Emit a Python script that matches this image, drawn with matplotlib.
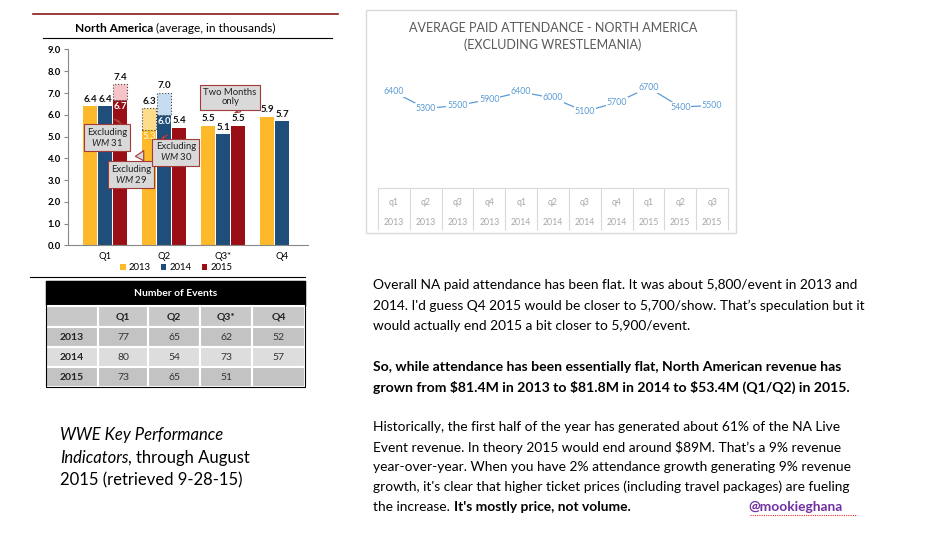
import numpy as np
import matplotlib.pyplot as plt
from matplotlib.patches import Rectangle

plt.rcParams['font.family'] = ['Lato', 'DejaVu Sans']
plt.rcParams['mathtext.fontset'] = 'custom'
plt.rcParams['mathtext.rm'] = 'Lato'
plt.rcParams['mathtext.it'] = 'Lato:italic'

W, H = 930, 536

# --- bar chart data (average attendance, thousands) ---
quarters = ['Q1', 'Q2', 'Q3*', 'Q4']
years = ['2013', '2014', '2015']
avg_2013 = [6.4, 5.3, 5.5, 5.9]
avg_2014 = [6.4, 6.0, 5.1, 5.7]
avg_2015 = [6.7, 5.4, 5.5, np.nan]
# same quarters with WrestleMania included (only where it differs)
wm_2013 = [np.nan, 6.3, np.nan, np.nan]
wm_2014 = [np.nan, 7.0, np.nan, np.nan]
wm_2015 = [7.4, np.nan, np.nan, np.nan]

# --- number of events table ---
events_2013 = [77, 65, 62, 52]
events_2014 = [80, 54, 73, 57]
events_2015 = [73, 65, 51, None]

# --- line chart data ---
line_q = ['q1', 'q2', 'q3', 'q4', 'q1', 'q2', 'q3', 'q4', 'q1', 'q2', 'q3']
line_yr = ['2013'] * 4 + ['2014'] * 4 + ['2015'] * 3
line_vals = [6400, 5300, 5500, 5900, 6400, 6000, 5100, 5700, 6700, 5400, 5500]


def box(x0, y0, x1, y1):
    # pixel box -> figure fraction
    return [x0 / W, 1 - y1 / H, (x1 - x0) / W, (y1 - y0) / H]


fig = plt.figure(figsize=(9.3, 5.36), dpi=100)
page = fig.add_axes([0, 0, 1, 1])
page.set_xlim(0, W)
page.set_ylim(H, 0)
page.axis('off')

# ================= bar chart =================
page.plot([33, 338], [14, 14], color='#8B1A1A', lw=1.2)
page.plot([43, 332], [38, 38], color='black', lw=0.8)
page.plot([30, 305], [277, 277], color='black', lw=0.8)
t = page.text(75, 28, 'North America', fontsize=8.6, fontweight='bold', va='center')
page.annotate(' (average, in thousands)', xy=(1, 0), xycoords=t, va='bottom', fontsize=8.6)

ax = fig.add_axes(box(68, 49.5, 308, 245.5))
ax.patch.set_alpha(0)
x = np.arange(len(quarters))
off = 0.254
bw = 0.245
cols = ['#FDB92A', '#1F4E7A', '#9A0E16']
ghost = ['#FDDC8A', '#C6DDF1', '#F6C3C9']
inner_txt = ['#FFF0C0', 'white', 'white']
handles = []
for k, (vals, wm) in enumerate(zip([avg_2013, avg_2014, avg_2015], [wm_2013, wm_2014, wm_2015])):
    vals = np.array(vals)
    wm = np.array(wm)
    xs = x + (k - 1) * off
    ok = ~np.isnan(vals)
    b = ax.bar(xs[ok], vals[ok], bw, color=cols[k], label=years[k])
    handles.append(b)
    g = ~np.isnan(wm)
    ax.bar(xs[g], wm[g] - vals[g], bw, bottom=vals[g], color=ghost[k],
           edgecolor='#444444', linestyle=':', linewidth=0.8)
    for xi, v, tv in zip(xs, vals, wm):
        if np.isnan(v):
            continue
        top = v if np.isnan(tv) else tv
        ax.text(xi, top + 0.12, f'{top:.1f}', ha='center', va='bottom',
                fontsize=7, fontweight='bold', color='#111111')
        if not np.isnan(tv):
            ax.text(xi, v - 0.1, f'{v:.1f}', ha='center', va='top',
                    fontsize=7, fontweight='bold', color=inner_txt[k])

ax.set_ylim(0, 9)
ax.set_xlim(-0.627, 3.44)
ax.set_yticks(np.arange(0, 10))
ax.set_yticklabels([f'{v:.1f}' for v in range(10)], fontsize=6.8, fontweight='bold')
ax.set_xticks(x)
ax.set_xticklabels(quarters, fontsize=6.8)
ax.tick_params(axis='x', length=0, pad=5)
ax.tick_params(axis='y', length=3, color='#888888', pad=2)
for s in ['top', 'right']:
    ax.spines[s].set_visible(False)
ax.spines['left'].set_color('#888888')
ax.spines['bottom'].set_color('#888888')

callouts = [
    ('Excluding\n$\\it{WM\\ 31}$', (0.034, 4.94), (0.254, 5.85)),
    ('Excluding\n$\\it{WM\\ 29}$', (0.44, 3.24), (0.678, 4.47)),
    ('Excluding\n$\\it{WM\\ 30}$', (1.2, 4.29), (0.98, 4.98)),
    ('Two Months\nonly', (2.12, 6.81), (2.29, 6.13)),
]
for txt, pos, tip in callouts:
    ax.annotate(txt, xy=tip, xytext=pos, ha='center', va='center', fontsize=6.8,
                color='#222222', linespacing=1.05,
                bbox=dict(boxstyle='square,pad=0.35', fc='#D9D9D9', ec='#A33A3A', lw=0.8),
                arrowprops=dict(arrowstyle='wedge,tail_width=1.0,shrink_factor=0.5',
                                fc='#D9D9D9', ec='#A33A3A', lw=0.8))

fig.legend(handles=handles, labels=years, loc='center', ncol=3,
           bbox_to_anchor=(176 / W, 1 - 268 / H), frameon=False, fontsize=6.8,
           handlelength=0.6, handleheight=0.6, handletextpad=0.3, columnspacing=1.1)

# ================= events table (own axes, pixel units) =================
tax = fig.add_axes(box(40, 279, 312, 392))
tax.set_zorder(10)
tax.set_xlim(40, 312)
tax.set_ylim(392, 279)
tax.axis('off')
tax.add_patch(Rectangle((40, 279), 272, 113, color='white'))
cx = [46, 98, 148, 200, 252, 305]
ry = [306, 327, 347, 367, 387]
tax.add_patch(Rectangle((46, 281), 259, 25, color='black'))
tax.text((46 + 305) / 2, 294, 'Number of Events', ha='center', va='center',
         color='white', fontsize=7.4, fontweight='bold')
row_bg = ['#C8C8C8', '#C3C3C3', '#DDDDDD', '#C3C3C3']
rows = [[''] + quarters,
        ['2013'] + [str(v) for v in events_2013],
        ['2014'] + [str(v) for v in events_2014],
        ['2015'] + ['' if v is None else str(v) for v in events_2015]]
for r, row in enumerate(rows):
    for c, val in enumerate(row):
        tax.add_patch(Rectangle((cx[c], ry[r]), cx[c + 1] - cx[c], ry[r + 1] - ry[r],
                                fc=row_bg[r], ec='white', lw=1.5))
        bold = r == 0 or c == 0
        tax.text((cx[c] + cx[c + 1]) / 2, (ry[r] + ry[r + 1]) / 2 + 0.5, val,
                 ha='center', va='center', fontsize=7.5,
                 fontweight='bold' if bold else 'normal',
                 color='#222222' if bold else '#333333')
tax.add_patch(Rectangle((46, 281), 259, 106, fill=False, ec='black', lw=0.8))

# ================= line chart =================
page.add_patch(Rectangle((366, 10), 370, 223, fill=False, ec='#D9D9D9', lw=1))
page.text(553, 28, 'AVERAGE PAID ATTENDANCE - NORTH AMERICA', ha='center', va='center',
          fontsize=9, color='#595959')
page.text(553, 45, '(EXCLUDING WRESTLEMANIA)', ha='center', va='center',
          fontsize=9, color='#595959')

lax = fig.add_axes(box(378, 53, 728, 188))
lax.set_xlim(-0.5, 10.5)
lax.set_ylim(0, 9000)
lax.axis('off')
xi = np.arange(len(line_vals))
lax.plot(xi, line_vals, color='#5B9BD5', lw=0.9)
for xx, v in zip(xi, line_vals):
    lax.text(xx, v, str(v), ha='center', va='center', fontsize=6.3, color='#5B9BD5',
             bbox=dict(fc='white', ec='none', pad=0.6))
tr = lax.get_xaxis_transform()
lax.plot([-0.5, 10.5], [0, 0], color='#D9D9D9', lw=0.8, transform=tr, clip_on=False)
lax.vlines(np.arange(len(line_vals) + 1) - 0.5, -0.311, 0, color='#D9D9D9', lw=0.8,
           transform=tr, clip_on=False)
for xx, q, yr in zip(xi, line_q, line_yr):
    lax.text(xx, -0.111, q, ha='center', va='center', fontsize=6.3, color='#A6A6A6',
             transform=tr)
    lax.text(xx, -0.252, yr, ha='center', va='center', fontsize=6.3, color='#A6A6A6',
             transform=tr)

# ================= commentary text =================
fs = 9.9
para1 = ['Overall NA paid attendance has been flat. It was about 5,800/event in 2013 and',
         "2014. I'd guess Q4 2015 would be closer to 5,700/show. That\u2019s speculation but it",
         'would actually end 2015 a bit closer to 5,900/event.']
para2 = ['So, while attendance has been essentially flat, North American revenue has',
         'grown from $81.4M in 2013 to $81.8M in 2014 to $53.4M (Q1/Q2) in 2015.']
para3 = ['Historically, the first half of the year has generated about 61% of the NA Live',
         'Event revenue. In theory 2015 would end around $89M. That\u2019s a 9% revenue',
         'year-over-year. When you have 2% attendance growth generating 9% revenue',
         "growth, it's clear that higher ticket prices (including travel packages) are fueling"]
for i, line in enumerate(para1):
    page.text(373, 285 + 20.7 * i, line, fontsize=fs, va='center', color='black')
for i, line in enumerate(para2):
    page.text(373, 367 + 20 * i, line, fontsize=10.1, va='center', fontweight='bold', color='black')
for i, line in enumerate(para3):
    page.text(373, 427 + 20 * i, line, fontsize=fs, va='center', color='black')
t = page.text(373, 507, 'the increase.', fontsize=fs, va='center', color='black')
page.annotate("It's mostly price, not volume.", xy=(1, 0), xycoords=t, xytext=(3, 0),
              textcoords='offset points', va='bottom', fontsize=fs, fontweight='bold')
page.text(748, 507, '@mookieghana', fontsize=fs, va='center', fontweight='bold', color='#7030A0')
page.plot([750, 857], [515, 515], color='#E03030', lw=0.8, linestyle=(0, (1, 1)))

# ================= caption =================
cs = 12
page.text(60, 435, 'WWE Key Performance', fontsize=cs, style='italic', va='center')
t = page.text(60, 458, 'Indicators', fontsize=cs, style='italic', va='center')
page.annotate(', through August', xy=(1, 0), xycoords=t, va='bottom', fontsize=cs)
page.text(60, 480, '2015 (retrieved 9-28-15)', fontsize=cs, va='center')

fig.savefig('out.png', dpi=100)
